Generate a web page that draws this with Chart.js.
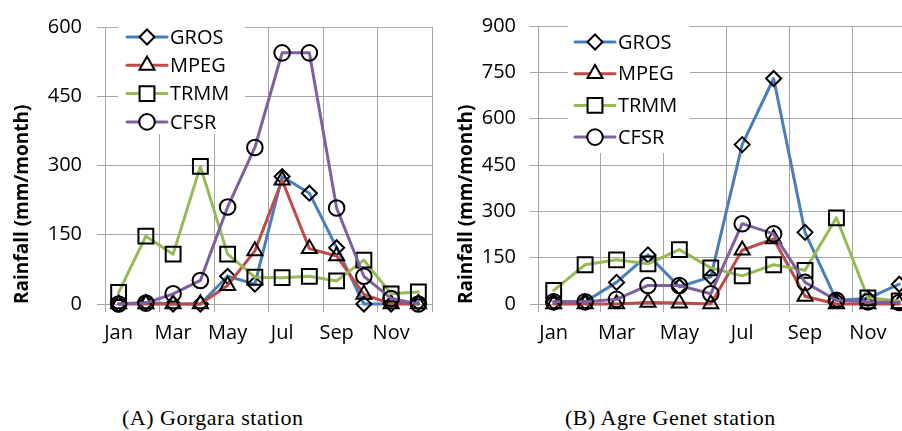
<!DOCTYPE html>
<html>
<head>
    <title>Monthly rainfall</title>
    <script src="https://cdn.jsdelivr.net/npm/chart.js@4.4.1/dist/chart.umd.min.js"></script>
    <style>
        body { margin: 0; width: 902px; height: 431px; overflow: hidden; position: relative; background: #fff; }
        canvas { position: absolute; top: 0; }
        #chartA { left: 0; }
        #chartB { left: 450px; }
        .caption { position: absolute; top: 405px; font-family: "Liberation Serif", "Times New Roman", serif; font-size: 22px; letter-spacing: 0.5px; color: #000; white-space: nowrap; }
    </style>
</head>
<body>
    <canvas id="chartA" width="450" height="360"></canvas>
    <canvas id="chartB" width="483" height="360"></canvas>
    <div class="caption" style="left:122px">(A) Gorgara station</div>
    <div class="caption" style="left:565px">(B) Agre Genet station</div>

    <script>
        const months = ['Jan', 'Feb', 'Mar', 'Apr', 'May', 'Jun', 'Jul', 'Aug', 'Sep', 'Oct', 'Nov', 'Dec'];
        const seriesNames = ['GROS', 'MPEG', 'TRMM', 'CFSR'];

        // (A) Gorgara station, mm/month
        const grosA = [0, 3, 0, 0, 60, 43, 276, 240, 122, 0, 0, 3];
        const mpegA = [0, 0, 0, 0, 40, 115, 268, 120, 104, 21, 0, 0];
        const trmmA = [25, 147, 108, 298, 108, 58, 57, 60, 50, 95, 22, 26];
        const cfsrA = [0, 2, 22, 51, 210, 339, 544, 544, 208, 60, 12, 0];

        // (B) Agre Genet station, mm/month
        const grosB = [7, 7, 70, 159, 56, 88, 516, 730, 232, 12, 18, 64];
        const mpegB = [0, 0, 0, 5, 3, 0, 174, 211, 25, 0, 0, 0];
        const trmmB = [44, 127, 143, 130, 176, 117, 91, 127, 109, 279, 20, 10];
        const cfsrB = [7, 7, 15, 60, 60, 33, 260, 227, 70, 12, 7, 5];

        const yTicksA = { max: 600, step: 150 };
        const yTicksB = { max: 900, step: 150 };

        const colors = ['#4a7ebb', '#be4b48', '#98b954', '#7d60a0'];
        const markers = [
            { style: 'rectRot', radius: 7.5 },
            { style: 'triangle', radius: 8.7 },
            { style: 'rect', radius: 10.5 },
            { style: 'circle', radius: 7.8 }
        ];
        const gridGray = '#a6a6a6';
        const font = { family: '"Open Sans", sans-serif', size: 20 };

        function makeDatasets(values) {
            return values.map((v, i) => ({
                label: seriesNames[i],
                data: v,
                borderColor: colors[i],
                borderWidth: 3,
                borderCapStyle: 'round',
                borderJoinStyle: 'round',
                tension: 0,
                pointStyle: markers[i].style,
                pointRadius: markers[i].radius,
                pointHoverRadius: markers[i].radius,
                pointBorderColor: '#000',
                pointBorderWidth: 2,
                pointBackgroundColor: 'rgba(0,0,0,0)',
                clip: false,
                order: 3 - i
            }));
        }

        // legend drawn inside the plot: line segment with the marker on it
        const insideLegend = {
            id: 'insideLegend',
            afterDatasetsDraw(chart, args, opts) {
                const ctx = chart.ctx;
                ctx.save();
                ctx.fillStyle = '#fff';
                ctx.fillRect(opts.box[0], opts.box[1], opts.box[2], opts.box[3]);
                chart.data.datasets.forEach((ds, i) => {
                    const y = opts.y + i * opts.dy;
                    ctx.strokeStyle = ds.borderColor;
                    ctx.lineWidth = 3;
                    ctx.lineCap = 'round';
                    ctx.beginPath();
                    ctx.moveTo(opts.x, y);
                    ctx.lineTo(opts.x + 40, y);
                    ctx.stroke();
                    ctx.strokeStyle = '#000';
                    ctx.lineWidth = 2;
                    Chart.helpers.drawPoint(ctx, {
                        pointStyle: ds.pointStyle,
                        radius: ds.pointRadius,
                        borderWidth: 2,
                        rotation: 0
                    }, opts.x + 20, y);
                    ctx.fillStyle = '#000';
                    ctx.font = '20px "Open Sans", sans-serif';
                    ctx.textBaseline = 'middle';
                    ctx.textAlign = 'left';
                    ctx.fillText(ds.label, opts.x + 43, y + 1);
                    ctx.fillStyle = '#fff';
                });
                ctx.restore();
            }
        };

        function makeChart(id, values, yTicks, yWidth, tickPad, titlePad, legendOpts) {
            return new Chart(document.getElementById(id), {
                type: 'line',
                data: { labels: months, datasets: makeDatasets(values) },
                plugins: [insideLegend],
                options: {
                    responsive: false,
                    animation: false,
                    events: [],
                    layout: { padding: { top: 17, right: 18, left: 0, bottom: 0 } },
                    plugins: {
                        legend: { display: false },
                        tooltip: { enabled: false },
                        insideLegend: legendOpts
                    },
                    scales: {
                        x: {
                            offset: true,
                            afterFit: (s) => { s.height = 56; },
                            grid: {
                                offset: true,
                                tickLength: 8,
                                color: (c) => (c.index === undefined || c.index % 2 === 0) ? gridGray : 'rgba(0,0,0,0)'
                            },
                            border: { color: gridGray },
                            ticks: {
                                autoSkip: false,
                                maxRotation: 0,
                                padding: 9,
                                color: '#000',
                                font: font,
                                callback: (v, i) => i % 2 === 0 ? months[i] : ''
                            }
                        },
                        y: {
                            min: 0,
                            max: yTicks.max,
                            afterFit: (s) => { s.width = yWidth; },
                            grid: { color: gridGray, tickLength: 8 },
                            border: { color: gridGray },
                            ticks: { stepSize: yTicks.step, padding: tickPad, color: '#000', font: font },
                            title: {
                                display: true,
                                text: 'Rainfall (mm/month)',
                                align: 'start',
                                color: '#000',
                                padding: { top: titlePad, bottom: 0 },
                                font: { family: '"Open Sans", sans-serif', size: 19, weight: 'bold' }
                            }
                        }
                    }
                }
            });
        }

        makeChart('chartA', [grosA, mpegA, trmmA, cfsrA], yTicksA, 105, 15, 11,
            { x: 127, y: 37, dy: 28.3, box: [118, 22, 127, 112] });
        makeChart('chartB', [grosB, mpegB, trmmB, cfsrB], yTicksB, 88, 14, 5,
            { x: 125, y: 42, dy: 31.7, box: [118, 25, 122, 128] });
    </script>
</body>
</html>
